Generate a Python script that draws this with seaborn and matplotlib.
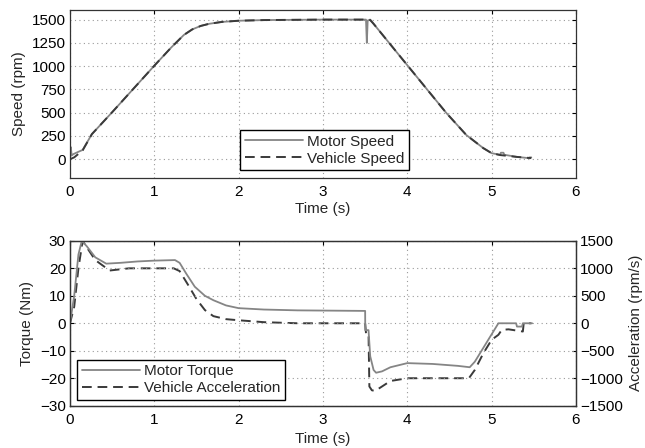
import matplotlib
matplotlib.use("Agg")
import matplotlib.pyplot as plt
import seaborn as sns

# Speed traces (rpm)
motor_speed_t = [0, 0.01, 0.02, 0.04, 0.1, 0.15, 0.26, 0.5, 0.75, 1.0, 1.2, 1.35, 1.45, 1.55,
                 1.65, 1.8, 2.0, 2.3, 2.7, 3.0, 3.51, 3.52, 3.53, 3.56, 3.6, 4.0, 4.46, 4.6,
                 4.7, 4.8, 4.9, 5.0, 5.1, 5.11, 5.14, 5.15, 5.3, 5.44, 5.45, 5.47]
motor_speed = [0, 130, 40, 55, 80, 100, 270, 505, 755, 1005, 1200, 1335, 1395, 1432,
               1455, 1475, 1488, 1495, 1498, 1500, 1500, 1250, 1490, 1500, 1455, 1010, 500, 360,
               260, 190, 120, 65, 48, 70, 70, 48, 25, 12, 20, 20]
vehicle_speed_t = [0, 0.05, 0.15, 0.26, 0.5, 0.75, 1.0, 1.2, 1.35, 1.45, 1.55, 1.65, 1.8, 2.0,
                   2.3, 2.7, 3.0, 3.53, 3.56, 3.6, 4.0, 4.46, 4.6, 4.7, 4.8, 4.9, 5.0, 5.1,
                   5.3, 5.47]
vehicle_speed = [0, 20, 95, 270, 505, 755, 1005, 1200, 1335, 1395, 1432, 1455, 1475, 1488,
                 1495, 1498, 1500, 1500, 1495, 1455, 1010, 500, 360, 260, 190, 120, 65, 45,
                 25, 12]

# Torque (Nm) and vehicle acceleration (rpm/s)
torque_t = [0, 0.05, 0.1, 0.14, 0.2, 0.3, 0.43, 0.6, 0.8, 1.0, 1.245, 1.3, 1.38, 1.48, 1.6,
            1.7, 1.85, 2.0, 2.3, 2.7, 3.5, 3.501, 3.54, 3.56, 3.6, 3.63, 3.7, 3.8, 4.0, 4.3,
            4.6, 4.74, 4.8, 4.9, 5.0, 5.08, 5.29, 5.3, 5.36, 5.37, 5.48]
torque = [0, 10, 25, 30, 28, 24, 21.7, 22, 22.5, 22.8, 23, 22, 18, 13.3, 10,
          8.4, 6.5, 5.5, 5, 4.7, 4.5, -2.5, -2.5, -12, -17, -18, -17.5, -16, -14.5, -14.8,
          -15.5, -16, -14, -9, -4, 0, 0, -1.2, -1.2, 0, 0]
accel_t = [0, 0.05, 0.1, 0.15, 0.2, 0.3, 0.47, 0.7, 1.0, 1.23, 1.3, 1.4, 1.5, 1.6, 1.7, 1.85,
           2.0, 2.3, 2.7, 3.5, 3.51, 3.54, 3.55, 3.58, 3.62, 3.7, 3.8, 4.0, 4.4, 4.73, 4.8,
           4.9, 5.0, 5.08, 5.12, 5.2, 5.37, 5.38, 5.47]
accel = [0, 300, 1000, 1500, 1380, 1150, 960, 1000, 1000, 1000, 950, 700, 440, 240, 130, 75,
         55, 20, 0, 0, -180, -180, -1150, -1220, -1230, -1150, -1050, -1000, -1000, -1000, -850,
         -550, -300, -210, -120, -110, -150, 0, 0]

sns.set_style("white")
plt.rcParams['font.family'] = ['Liberation Sans', 'DejaVu Sans']
plt.rcParams['font.size'] = 11

motor_color = "#858585"
vehicle_color = "#3a3a3a"
grid_kw = dict(linestyle=(0, (1, 3)), color="#9a9a9a", linewidth=0.8)

fig = plt.figure(figsize=(6.45, 4.48), dpi=100)
ax1 = fig.add_axes([0.1085, 0.603, 0.7845, 0.374])
ax2 = fig.add_axes([0.1085, 0.0944, 0.7845, 0.368])

# top: speed
sns.lineplot(x=motor_speed_t, y=motor_speed, ax=ax1, color=motor_color, lw=1.3,
             estimator=None, sort=False, label="Motor Speed")
sns.lineplot(x=vehicle_speed_t, y=vehicle_speed, ax=ax1, color=vehicle_color, lw=1.4,
             estimator=None, sort=False, label="Vehicle Speed", dashes=False)
ax1.lines[1].set_linestyle((0, (5, 3)))
ax1.set_xlim(0, 6)
ax1.set_ylim(-200, 1600)
ax1.set_yticks([0, 250, 500, 750, 1000, 1250, 1500])
ax1.set_xticks(range(7))
ax1.set_xlabel("Time (s)", labelpad=2)
ax1.set_ylabel("Speed (rpm)")
ax1.grid(True, **grid_kw)
ax1.legend(loc="lower left", bbox_to_anchor=(0.336, 0.046), fancybox=False, edgecolor="black",
           framealpha=1, handlelength=3.8, borderaxespad=0, fontsize=11,
           borderpad=0.3, labelspacing=0.2, handletextpad=0.3)

# bottom: torque + acceleration
ax3 = ax2.twinx()
sns.lineplot(x=torque_t, y=torque, ax=ax2, color=motor_color, lw=1.3,
             estimator=None, sort=False, legend=False)
sns.lineplot(x=accel_t, y=accel, ax=ax3, color=vehicle_color, lw=1.4,
             estimator=None, sort=False, legend=False)
ax3.lines[0].set_linestyle((0, (5, 3)))
ax2.set_xlim(0, 6)
ax2.set_ylim(-30, 30)
ax2.set_yticks(range(-30, 31, 10))
ax3.set_ylim(-1500, 1500)
ax3.set_yticks(range(-1500, 1501, 500))
ax2.set_xticks(range(7))
ax2.set_xlabel("Time (s)", labelpad=4)
ax2.set_ylabel("Torque (Nm)")
ax3.set_ylabel("Acceleration (rpm/s)")
ax2.grid(True, **grid_kw)
ax2.legend([ax2.lines[0], ax3.lines[0]], ["Motor Torque", "Vehicle Acceleration"],
           loc="lower left", bbox_to_anchor=(0.014, 0.035), fancybox=False, edgecolor="black",
           framealpha=1, handlelength=3.8, borderaxespad=0, fontsize=11,
           borderpad=0.3, labelspacing=0.2, handletextpad=0.3)
ax2.set_zorder(ax3.get_zorder() + 1)
ax2.patch.set_visible(False)

for ax in (ax1, ax2, ax3):
    ax.tick_params(direction="in", length=3, width=0.8, colors="black", labelsize=11, pad=3)
    for s in ax.spines.values():
        s.set_color("#333333")
        s.set_linewidth(0.9)
ax1.tick_params(top=True, right=True)
ax2.tick_params(top=True)
ax1.tick_params(axis="x", pad=5)
ax2.tick_params(axis="x", pad=5)

fig.savefig("out.png", dpi=100)
